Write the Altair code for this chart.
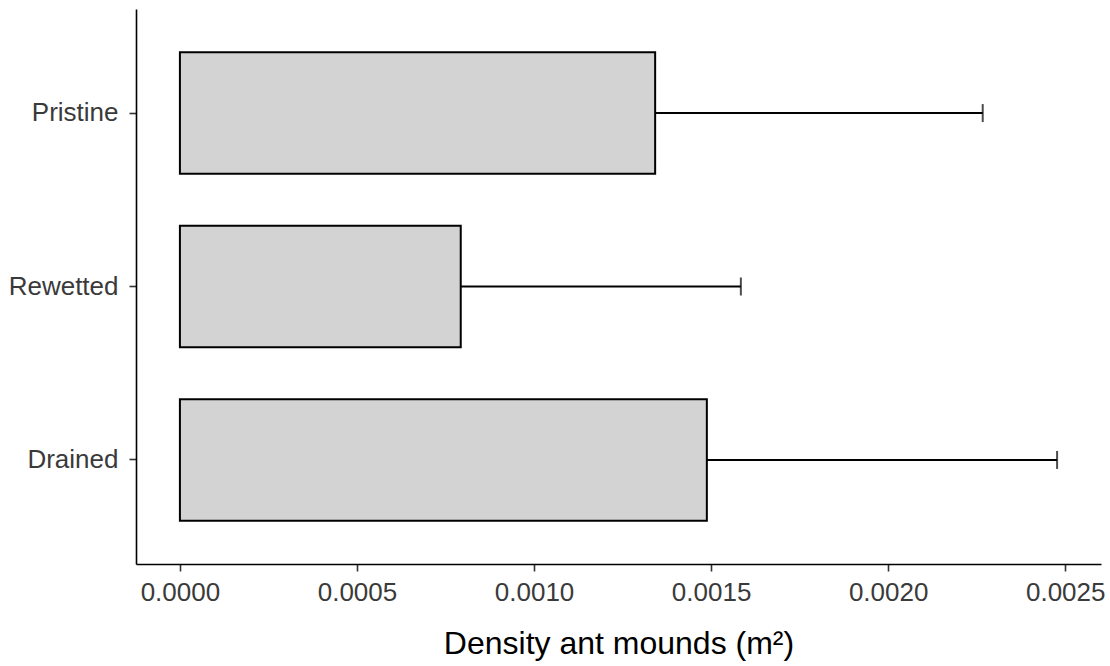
import altair as alt
import pandas as pd

sites = ["Pristine", "Rewetted", "Drained"]
density = [0.001342, 0.000793, 0.001488]
upper = [0.002267, 0.001584, 0.002477]
tick_values = [0.0, 0.0005, 0.0010, 0.0015, 0.0020, 0.0025]

df = pd.DataFrame({"site": sites, "density": density, "upper": upper})

FONT = "Liberation Sans"
xscale = alt.Scale(domain=[-0.000124, 0.002601], nice=False, zero=False)
yscale = alt.Scale(domain=sites, paddingInner=0.3, paddingOuter=0.25)

xaxis = alt.Axis(
    values=tick_values, format=".4f", grid=False,
    title="Density ant mounds (m²)",
    labelFont=FONT, labelFontSize=26, labelColor="#3a3a3a", labelPadding=8,
    titleFont=FONT, titleFontSize=32, titleColor="#000000", titleFontWeight="normal",
    titlePadding=23,
    domainColor="#000000", domainWidth=1.6,
    tickColor="#333333", tickWidth=1.6, tickSize=7,
)
yaxis = alt.Axis(
    title=None, grid=False,
    labelFont=FONT, labelFontSize=26, labelColor="#3a3a3a", labelPadding=11,
    domainColor="#000000", domainWidth=1.6,
    tickColor="#333333", tickWidth=1.6, tickSize=7,
)

base = alt.Chart(df)
Y = alt.Y("site:N", scale=yscale, sort=sites, axis=yaxis)

err = base.mark_rule(color="#000000", strokeWidth=2).encode(
    x=alt.X("density:Q", scale=xscale, axis=xaxis),
    x2="upper:Q",
    y=Y,
)
cap = base.mark_tick(color="#000000", thickness=2, size=18, orient="vertical").encode(
    x=alt.X("upper:Q", scale=xscale, axis=xaxis),
    y=Y,
)
bars = base.mark_bar(fill="#d3d3d3", stroke="#000000", strokeWidth=2).encode(
    x=alt.X("density:Q", scale=xscale, axis=xaxis),
    y=Y,
)

chart = (
    alt.layer(err, cap, bars)
    .properties(
        width=965, height=555,
        autosize=alt.AutoSizeParams(type="none"),
        padding={"left": 136, "top": 9, "right": 9, "bottom": 102},
        view=alt.ViewBackground(stroke=None, strokeOpacity=0),
    )
    .configure_view(stroke=None, strokeOpacity=0, strokeWidth=0)
    .configure(background="#ffffff")
)

chart.save("out.html", embed_options={"renderer": "svg", "actions": False})
